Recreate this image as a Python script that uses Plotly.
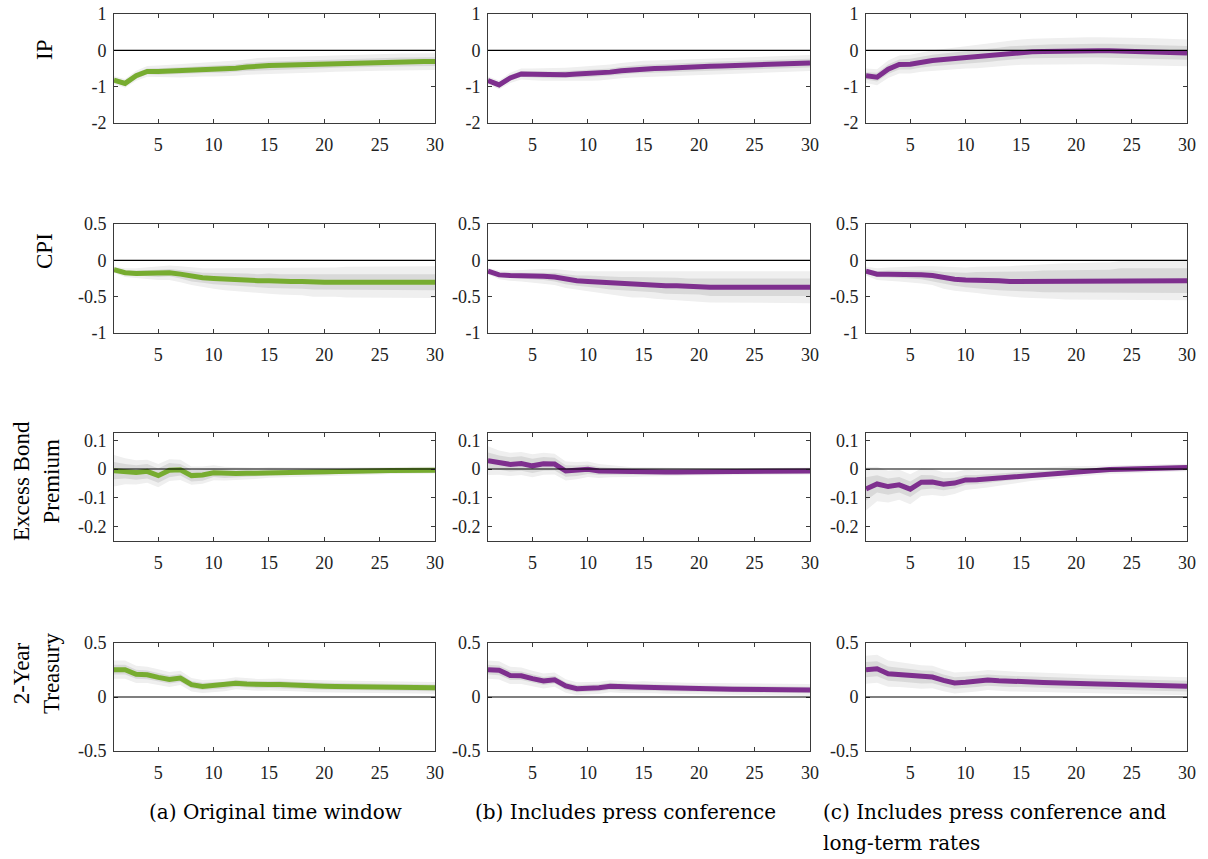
import plotly.graph_objects as go
from plotly.subplots import make_subplots

# ---------------- data ----------------
horizon = list(range(1, 31))
x_tick_vals = [5, 10, 15, 20, 25, 30]

row_labels = ["IP", "CPI", "Excess Bond<br>Premium", "2-Year<br>Treasury"]
captions = ["(a) Original time window",
            "(b) Includes press conference",
            "(c) Includes press conference and",
            "long-term rates"]

ip_ticks = [-2, -1, 0, 1]
ip_tick_text = ["-2", "-1", "0", "1"]
cpi_ticks = [-1, -0.5, 0, 0.5]
cpi_tick_text = ["-1", "-0.5", "0", "0.5"]
ebp_ticks = [-0.2, -0.1, 0, 0.1]
ebp_tick_text = ["-0.2", "-0.1", "0", "0.1"]
ty_ticks = [-0.5, 0, 0.5]
ty_tick_text = ["-0.5", "0", "0.5"]

# IP
ip_a = [-0.82, -0.91, -0.70, -0.58, -0.58, -0.57, -0.57, -0.55, -0.53, -0.52, -0.52, -0.49, -0.46, -0.43, -0.42,
        -0.41, -0.40, -0.39, -0.38, -0.37, -0.36, -0.35, -0.34, -0.34, -0.33, -0.33, -0.32, -0.32, -0.31, -0.31]
ip_a_in = [0.06, 0.07, 0.08, 0.08, 0.09, 0.09, 0.09, 0.10, 0.10, 0.10, 0.10, 0.10, 0.11, 0.11, 0.11,
           0.11, 0.11, 0.11, 0.12, 0.12, 0.12, 0.12, 0.12, 0.12, 0.12, 0.12, 0.12, 0.12, 0.12, 0.12]
ip_a_out = [0.11, 0.12, 0.14, 0.15, 0.16, 0.17, 0.18, 0.19, 0.19, 0.20, 0.20, 0.21, 0.21, 0.22, 0.22,
            0.22, 0.22, 0.23, 0.23, 0.23, 0.23, 0.23, 0.23, 0.23, 0.23, 0.23, 0.23, 0.23, 0.23, 0.23]
ip_b = [-0.83, -0.95, -0.76, -0.65, -0.66, -0.67, -0.68, -0.67, -0.65, -0.64, -0.63, -0.60, -0.56, -0.53, -0.51,
        -0.50, -0.49, -0.47, -0.46, -0.45, -0.44, -0.43, -0.42, -0.41, -0.40, -0.39, -0.38, -0.37, -0.36, -0.35]
ip_b_in = [0.06, 0.07, 0.08, 0.08, 0.09, 0.09, 0.09, 0.10, 0.10, 0.10, 0.10, 0.10, 0.11, 0.11, 0.11,
           0.11, 0.11, 0.11, 0.12, 0.12, 0.12, 0.12, 0.12, 0.12, 0.12, 0.12, 0.12, 0.12, 0.12, 0.12]
ip_b_out = [0.11, 0.12, 0.14, 0.15, 0.16, 0.17, 0.18, 0.19, 0.19, 0.20, 0.20, 0.21, 0.21, 0.22, 0.22,
            0.22, 0.22, 0.22, 0.22, 0.22, 0.22, 0.22, 0.22, 0.22, 0.22, 0.22, 0.22, 0.22, 0.22, 0.22]
ip_c = [-0.70, -0.74, -0.52, -0.39, -0.38, -0.32, -0.28, -0.25, -0.22, -0.19, -0.17, -0.15, -0.11, -0.07, -0.05,
        -0.04, -0.03, -0.02, -0.02, -0.01, -0.01, -0.01, -0.01, -0.02, -0.02, -0.03, -0.04, -0.05, -0.06, -0.07]
ip_c_in = [0.10, 0.12, 0.13, 0.14, 0.15, 0.15, 0.16, 0.16, 0.16, 0.17, 0.17, 0.17, 0.18, 0.18, 0.18,
           0.18, 0.19, 0.19, 0.19, 0.19, 0.19, 0.19, 0.19, 0.19, 0.19, 0.19, 0.19, 0.19, 0.19, 0.19]
ip_c_out = [0.20, 0.22, 0.24, 0.25, 0.26, 0.27, 0.28, 0.29, 0.30, 0.31, 0.32, 0.33, 0.34, 0.35, 0.35,
            0.36, 0.36, 0.36, 0.37, 0.37, 0.37, 0.37, 0.37, 0.37, 0.37, 0.37, 0.37, 0.37, 0.37, 0.37]

# CPI
cpi_a = [-0.13, -0.17, -0.18, -0.18, -0.18, -0.17, -0.19, -0.22, -0.24, -0.25, -0.26, -0.27, -0.27, -0.28, -0.28,
         -0.29, -0.29, -0.29, -0.30, -0.30, -0.30, -0.30, -0.30, -0.30, -0.30, -0.30, -0.30, -0.30, -0.30, -0.30]
cpi_a_in = [0.02, 0.03, 0.04, 0.04, 0.05, 0.05, 0.06, 0.07, 0.07, 0.08, 0.08, 0.09, 0.09, 0.09, 0.10,
            0.10, 0.10, 0.10, 0.10, 0.11, 0.11, 0.11, 0.11, 0.11, 0.11, 0.11, 0.11, 0.11, 0.11, 0.11]
cpi_a_out = [0.04, 0.06, 0.07, 0.08, 0.09, 0.10, 0.11, 0.12, 0.13, 0.14, 0.15, 0.16, 0.17, 0.17, 0.18,
             0.18, 0.19, 0.19, 0.20, 0.20, 0.20, 0.21, 0.21, 0.21, 0.21, 0.22, 0.22, 0.22, 0.22, 0.22]
cpi_b = [-0.15, -0.20, -0.21, -0.21, -0.21, -0.22, -0.23, -0.26, -0.28, -0.29, -0.30, -0.31, -0.32, -0.33, -0.33,
         -0.34, -0.35, -0.35, -0.36, -0.36, -0.37, -0.37, -0.37, -0.37, -0.37, -0.37, -0.37, -0.37, -0.37, -0.37]
cpi_b_in = [0.02, 0.03, 0.04, 0.04, 0.05, 0.05, 0.06, 0.07, 0.07, 0.08, 0.08, 0.09, 0.09, 0.10, 0.10,
            0.10, 0.11, 0.11, 0.11, 0.11, 0.12, 0.12, 0.12, 0.12, 0.12, 0.12, 0.12, 0.12, 0.12, 0.12]
cpi_b_out = [0.04, 0.06, 0.07, 0.08, 0.09, 0.10, 0.11, 0.12, 0.13, 0.14, 0.15, 0.16, 0.17, 0.18, 0.18,
             0.19, 0.19, 0.20, 0.20, 0.21, 0.21, 0.21, 0.22, 0.22, 0.22, 0.22, 0.22, 0.22, 0.22, 0.22]
cpi_c = [-0.15, -0.19, -0.19, -0.19, -0.19, -0.20, -0.21, -0.24, -0.26, -0.27, -0.27, -0.28, -0.28, -0.29, -0.29,
         -0.29, -0.29, -0.29, -0.29, -0.29, -0.29, -0.29, -0.29, -0.28, -0.28, -0.28, -0.28, -0.28, -0.28, -0.28]
cpi_c_in = [0.03, 0.04, 0.05, 0.05, 0.06, 0.06, 0.07, 0.08, 0.09, 0.10, 0.11, 0.12, 0.13, 0.13, 0.14,
            0.14, 0.15, 0.15, 0.15, 0.16, 0.16, 0.16, 0.16, 0.17, 0.17, 0.17, 0.17, 0.17, 0.17, 0.17]
cpi_c_out = [0.06, 0.08, 0.09, 0.10, 0.11, 0.12, 0.13, 0.15, 0.16, 0.17, 0.18, 0.19, 0.20, 0.21, 0.22,
             0.23, 0.24, 0.24, 0.25, 0.25, 0.26, 0.26, 0.26, 0.27, 0.27, 0.27, 0.27, 0.27, 0.27, 0.27]

# Excess bond premium
ebp_a = [-0.006, -0.008, -0.012, -0.008, -0.023, -0.004, -0.003, -0.023, -0.021, -0.013, -0.016, -0.016, -0.015,
         -0.015, -0.012, -0.012, -0.011, -0.011, -0.010, -0.010, -0.009, -0.008, -0.007, -0.007, -0.006, -0.005,
         -0.005, -0.004, -0.004, -0.004]
ebp_a_in = [0.030, 0.025, 0.025, 0.025, 0.025, 0.025, 0.020, 0.020, 0.020, 0.015, 0.015, 0.012, 0.012, 0.010, 0.010,
            0.010, 0.010, 0.010, 0.010, 0.010, 0.008, 0.008, 0.008, 0.008, 0.008, 0.008, 0.008, 0.008, 0.008, 0.008]
ebp_a_out = [0.055, 0.045, 0.042, 0.040, 0.040, 0.038, 0.035, 0.032, 0.030, 0.026, 0.024, 0.022, 0.020, 0.019, 0.018,
             0.017, 0.016, 0.016, 0.015, 0.015, 0.014, 0.014, 0.013, 0.013, 0.013, 0.012, 0.012, 0.012, 0.012, 0.012]
ebp_b = [0.029, 0.022, 0.016, 0.019, 0.011, 0.018, 0.017, -0.007, -0.006, -0.001, -0.007, -0.008, -0.009, -0.011,
         -0.010, -0.010, -0.010, -0.010, -0.010, -0.010, -0.010, -0.010, -0.009, -0.009, -0.009, -0.009, -0.008,
         -0.008, -0.008, -0.007]
ebp_b_in = [0.028, 0.025, 0.025, 0.025, 0.025, 0.024, 0.022, 0.020, 0.018, 0.016, 0.014, 0.012, 0.011, 0.010, 0.010,
            0.009, 0.009, 0.009, 0.008, 0.008, 0.008, 0.008, 0.008, 0.008, 0.008, 0.008, 0.008, 0.008, 0.008, 0.008]
ebp_b_out = [0.050, 0.042, 0.040, 0.040, 0.040, 0.038, 0.036, 0.033, 0.030, 0.027, 0.024, 0.021, 0.019, 0.017, 0.016,
             0.015, 0.014, 0.014, 0.013, 0.013, 0.013, 0.012, 0.012, 0.012, 0.012, 0.012, 0.012, 0.012, 0.012, 0.012]
ebp_c = [-0.069, -0.052, -0.061, -0.055, -0.070, -0.046, -0.045, -0.053, -0.049, -0.038, -0.037, -0.034, -0.030,
         -0.026, -0.022, -0.019, -0.016, -0.013, -0.010, -0.008, -0.006, -0.004, -0.002, -0.001, 0.000, 0.001,
         0.002, 0.003, 0.004, 0.005]
ebp_c_in = [0.040, 0.030, 0.028, 0.027, 0.027, 0.025, 0.023, 0.021, 0.019, 0.017, 0.016, 0.015, 0.014, 0.013, 0.012,
            0.011, 0.011, 0.010, 0.010, 0.009, 0.009, 0.009, 0.008, 0.008, 0.008, 0.008, 0.008, 0.008, 0.008, 0.008]
ebp_c_out = [0.075, 0.060, 0.055, 0.052, 0.052, 0.048, 0.045, 0.042, 0.038, 0.035, 0.032, 0.030, 0.028, 0.026, 0.024,
             0.022, 0.021, 0.020, 0.019, 0.018, 0.017, 0.016, 0.015, 0.014, 0.014, 0.013, 0.013, 0.013, 0.013, 0.013]

# 2-year Treasury
ty_a = [0.253, 0.253, 0.210, 0.205, 0.182, 0.162, 0.176, 0.114, 0.098, 0.105, 0.110, 0.128, 0.120, 0.112, 0.115,
        0.116, 0.110, 0.105, 0.100, 0.100, 0.098, 0.097, 0.095, 0.093, 0.092, 0.090, 0.089, 0.087, 0.086, 0.085]
ty_a_in = [0.045, 0.045, 0.042, 0.040, 0.040, 0.038, 0.036, 0.034, 0.033, 0.032, 0.032, 0.032, 0.032, 0.031, 0.031,
           0.031, 0.031, 0.031, 0.031, 0.031, 0.031, 0.031, 0.031, 0.031, 0.031, 0.031, 0.031, 0.031, 0.031, 0.031]
ty_a_out = [0.085, 0.085, 0.080, 0.076, 0.074, 0.070, 0.066, 0.062, 0.060, 0.058, 0.057, 0.056, 0.055, 0.055, 0.055,
            0.055, 0.055, 0.055, 0.055, 0.055, 0.055, 0.055, 0.055, 0.055, 0.055, 0.055, 0.055, 0.055, 0.055, 0.055]
ty_b = [0.253, 0.247, 0.200, 0.197, 0.170, 0.148, 0.160, 0.102, 0.077, 0.080, 0.085, 0.099, 0.093, 0.087, 0.090,
        0.089, 0.085, 0.080, 0.076, 0.075, 0.074, 0.073, 0.072, 0.071, 0.070, 0.069, 0.068, 0.067, 0.066, 0.065]
ty_b_in = [0.045, 0.045, 0.042, 0.040, 0.040, 0.038, 0.036, 0.034, 0.033, 0.032, 0.032, 0.032, 0.032, 0.031, 0.031,
           0.031, 0.031, 0.031, 0.031, 0.031, 0.031, 0.031, 0.031, 0.031, 0.031, 0.031, 0.031, 0.031, 0.031, 0.031]
ty_b_out = [0.085, 0.085, 0.080, 0.076, 0.074, 0.070, 0.066, 0.062, 0.060, 0.058, 0.057, 0.056, 0.055, 0.055, 0.055,
            0.055, 0.055, 0.055, 0.055, 0.055, 0.055, 0.055, 0.055, 0.055, 0.055, 0.055, 0.055, 0.055, 0.055, 0.055]
ty_c = [0.253, 0.262, 0.216, 0.208, 0.198, 0.185, 0.185, 0.154, 0.130, 0.137, 0.145, 0.157, 0.150, 0.143, 0.142,
        0.140, 0.135, 0.130, 0.126, 0.125, 0.122, 0.120, 0.118, 0.115, 0.113, 0.110, 0.108, 0.105, 0.102, 0.100]
ty_c_in = [0.070, 0.070, 0.066, 0.064, 0.062, 0.060, 0.058, 0.055, 0.053, 0.052, 0.052, 0.052, 0.051, 0.051, 0.050,
           0.050, 0.050, 0.050, 0.050, 0.050, 0.050, 0.050, 0.050, 0.050, 0.050, 0.050, 0.050, 0.050, 0.050, 0.050]
ty_c_out = [0.130, 0.130, 0.122, 0.116, 0.112, 0.108, 0.104, 0.100, 0.097, 0.095, 0.094, 0.093, 0.092, 0.091, 0.090,
            0.090, 0.089, 0.088, 0.088, 0.087, 0.087, 0.086, 0.086, 0.085, 0.085, 0.085, 0.084, 0.084, 0.084, 0.084]

# ---------------- figure ----------------
GREEN = "#77ac30"
PURPLE = "#7e2f8e"
OUTER = "#efefef"
INNER = "#d9d9d9"
AXC = "#3a3a3a"
FONT = "Liberation Serif"
CAP_FONT = "DejaVu Serif"

panels = [
    [(ip_a, ip_a_in, ip_a_out, GREEN), (ip_b, ip_b_in, ip_b_out, PURPLE), (ip_c, ip_c_in, ip_c_out, PURPLE)],
    [(cpi_a, cpi_a_in, cpi_a_out, GREEN), (cpi_b, cpi_b_in, cpi_b_out, PURPLE), (cpi_c, cpi_c_in, cpi_c_out, PURPLE)],
    [(ebp_a, ebp_a_in, ebp_a_out, GREEN), (ebp_b, ebp_b_in, ebp_b_out, PURPLE), (ebp_c, ebp_c_in, ebp_c_out, PURPLE)],
    [(ty_a, ty_a_in, ty_a_out, GREEN), (ty_b, ty_b_in, ty_b_out, PURPLE), (ty_c, ty_c_in, ty_c_out, PURPLE)],
]
y_ranges = [[-2, 1], [-1, 0.5], [-0.25, 0.125], [-0.5, 0.5]]
y_ticks = [(ip_ticks, ip_tick_text), (cpi_ticks, cpi_tick_text), (ebp_ticks, ebp_tick_text), (ty_ticks, ty_tick_text)]

W, H = 1208, 859
col_px = [(114, 435), (488, 810), (866, 1187)]
row_px = [(14, 123), (224, 333), (433, 541), (643, 751)]
label_pos = [(45, 50), (45, 251), (36, 481), (36, 674)]

fig = make_subplots(rows=4, cols=3)


def band(mean, hw):
    up = [m + h for m, h in zip(mean, hw)]
    lo = [m - h for m, h in zip(mean, hw)]
    return horizon + horizon[::-1], up + lo[::-1]


for r in range(4):
    for c in range(3):
        mean, hin, hout, color = panels[r][c]
        bx, by = band(mean, hout)
        fig.add_trace(go.Scatter(x=bx, y=by, fill="toself", fillcolor=OUTER, mode="lines",
                                 line=dict(width=0), hoverinfo="skip", showlegend=False), row=r + 1, col=c + 1)
        bx, by = band(mean, hin)
        fig.add_trace(go.Scatter(x=bx, y=by, fill="toself", fillcolor=INNER, mode="lines",
                                 line=dict(width=0), hoverinfo="skip", showlegend=False), row=r + 1, col=c + 1)
        fig.add_trace(go.Scatter(x=horizon, y=mean, mode="lines", line=dict(color=color, width=5),
                                 showlegend=False), row=r + 1, col=c + 1)
        fig.add_hline(y=0, line=dict(color="black", width=1.2), row=r + 1, col=c + 1)

        x0, x1 = col_px[c]
        y0, y1 = row_px[r]
        fig.update_xaxes(domain=[x0 / W, x1 / W], range=[1, 30], tickvals=x_tick_vals, automargin=False,
                         showline=True, linecolor=AXC, linewidth=1, mirror="allticks",
                         ticks="inside", ticklen=4, tickcolor=AXC, showgrid=False, zeroline=False,
                         ticklabelstandoff=5,
                         tickfont=dict(family=FONT, size=18, color="#222"),
                         row=r + 1, col=c + 1)
        tv, tt = y_ticks[r]
        fig.update_yaxes(domain=[1 - y1 / H, 1 - y0 / H], range=y_ranges[r], tickvals=tv, ticktext=tt,
                         automargin=False,
                         showline=True, linecolor=AXC, linewidth=1, mirror="allticks",
                         ticks="inside", ticklen=4, tickcolor=AXC, showgrid=False, zeroline=False,
                         ticklabelstandoff=3,
                         tickfont=dict(family=FONT, size=18, color="#222"),
                         row=r + 1, col=c + 1)

annotations = []
for r in range(4):
    lx, ly = label_pos[r]
    annotations.append(dict(text=row_labels[r], x=lx / W, y=1 - ly / H, xref="paper", yref="paper",
                            textangle=-90, showarrow=False, xanchor="center", yanchor="middle",
                            font=dict(family=FONT, size=23, color="black")))

cap_font = dict(family=CAP_FONT, size=20, color="black")
annotations.append(dict(text=captions[0], x=147 / W, y=1 - 812 / H, xref="paper", yref="paper",
                        showarrow=False, xanchor="left", yanchor="middle", font=cap_font))
annotations.append(dict(text=captions[1], x=473 / W, y=1 - 812 / H, xref="paper", yref="paper",
                        showarrow=False, xanchor="left", yanchor="middle", font=cap_font))
annotations.append(dict(text=captions[2], x=821 / W, y=1 - 812 / H, xref="paper", yref="paper",
                        showarrow=False, xanchor="left", yanchor="middle", font=cap_font))
annotations.append(dict(text=captions[3], x=821 / W, y=1 - 843 / H, xref="paper", yref="paper",
                        showarrow=False, xanchor="left", yanchor="middle", font=cap_font))

fig.update_layout(width=W, height=H, margin=dict(l=0, r=0, t=0, b=0),
                  paper_bgcolor="white", plot_bgcolor="white", annotations=annotations)

fig.write_html("out.html",
               post_script="document.body.style.margin='0';document.body.style.overflow='hidden';")
